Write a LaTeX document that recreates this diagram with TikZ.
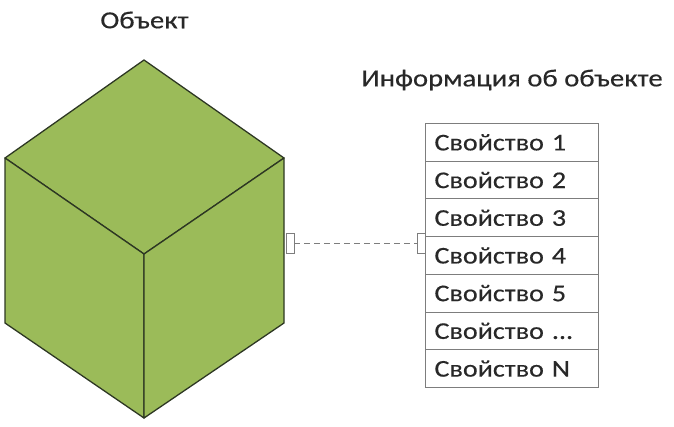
\documentclass[tikz,border=0pt]{standalone}
\usepackage{fontspec}
\setmainfont[FakeStretch=1.17,FakeBold=0.4]{Carlito}
\definecolor{cubegreen}{RGB}{155,187,89}
\definecolor{cubeedge}{RGB}{45,55,35}
\definecolor{tablegray}{RGB}{125,125,125}
\definecolor{textgray}{RGB}{40,40,40}
\begin{document}
\begin{tikzpicture}[x=1pt,y=-1pt,
        row/.style={draw=tablegray, line width=1pt, minimum width=173pt, minimum height=37.7pt,
            anchor=north west, inner sep=0pt, text width=155pt, align=left,
            font=\fontsize{24}{28}\selectfont, text=textgray},
        port/.style={draw=tablegray, fill=white, line width=0.8pt, minimum width=8pt,
            minimum height=20pt, inner sep=0pt},
        title/.style={font=\fontsize{24.5}{28}\selectfont, text=textgray}]
        \useasboundingbox (0,0) rectangle (674,426);
        % Cube
        \filldraw[fill=cubegreen, draw=cubeedge, line width=1.3pt, line join=round]
            (144,60) -- (284,158) -- (144,254) -- (5,158) -- cycle;
        \filldraw[fill=cubegreen, draw=cubeedge, line width=1.3pt, line join=round]
            (5,158) -- (144,254) -- (144,418) -- (5,323) -- cycle;
        \filldraw[fill=cubegreen, draw=cubeedge, line width=1.3pt, line join=round]
            (284,158) -- (284,323) -- (144,418) -- (144,254) -- cycle;
        \node[title] (obj) at (144.5,20) {Объект};
        % Table of properties
        \node[title] (info) at (512,80) {Информация об объекте};
        \foreach \i/\t in {1/1,2/2,3/3,4/4,5/5,6/{...},7/N} {
            \node[row] (row\i) at (425,{123+(\i-1)*37.7}) {Свойство \t};
        }
        % Link
        \node[port] (portL) at (290,243) {};
        \node[port] (portR) at (421,243) {};
        \draw[tablegray, line width=1pt, dash pattern=on 6pt off 4pt] (portL.east) -- (portR.west);
\end{tikzpicture}
\end{document}
